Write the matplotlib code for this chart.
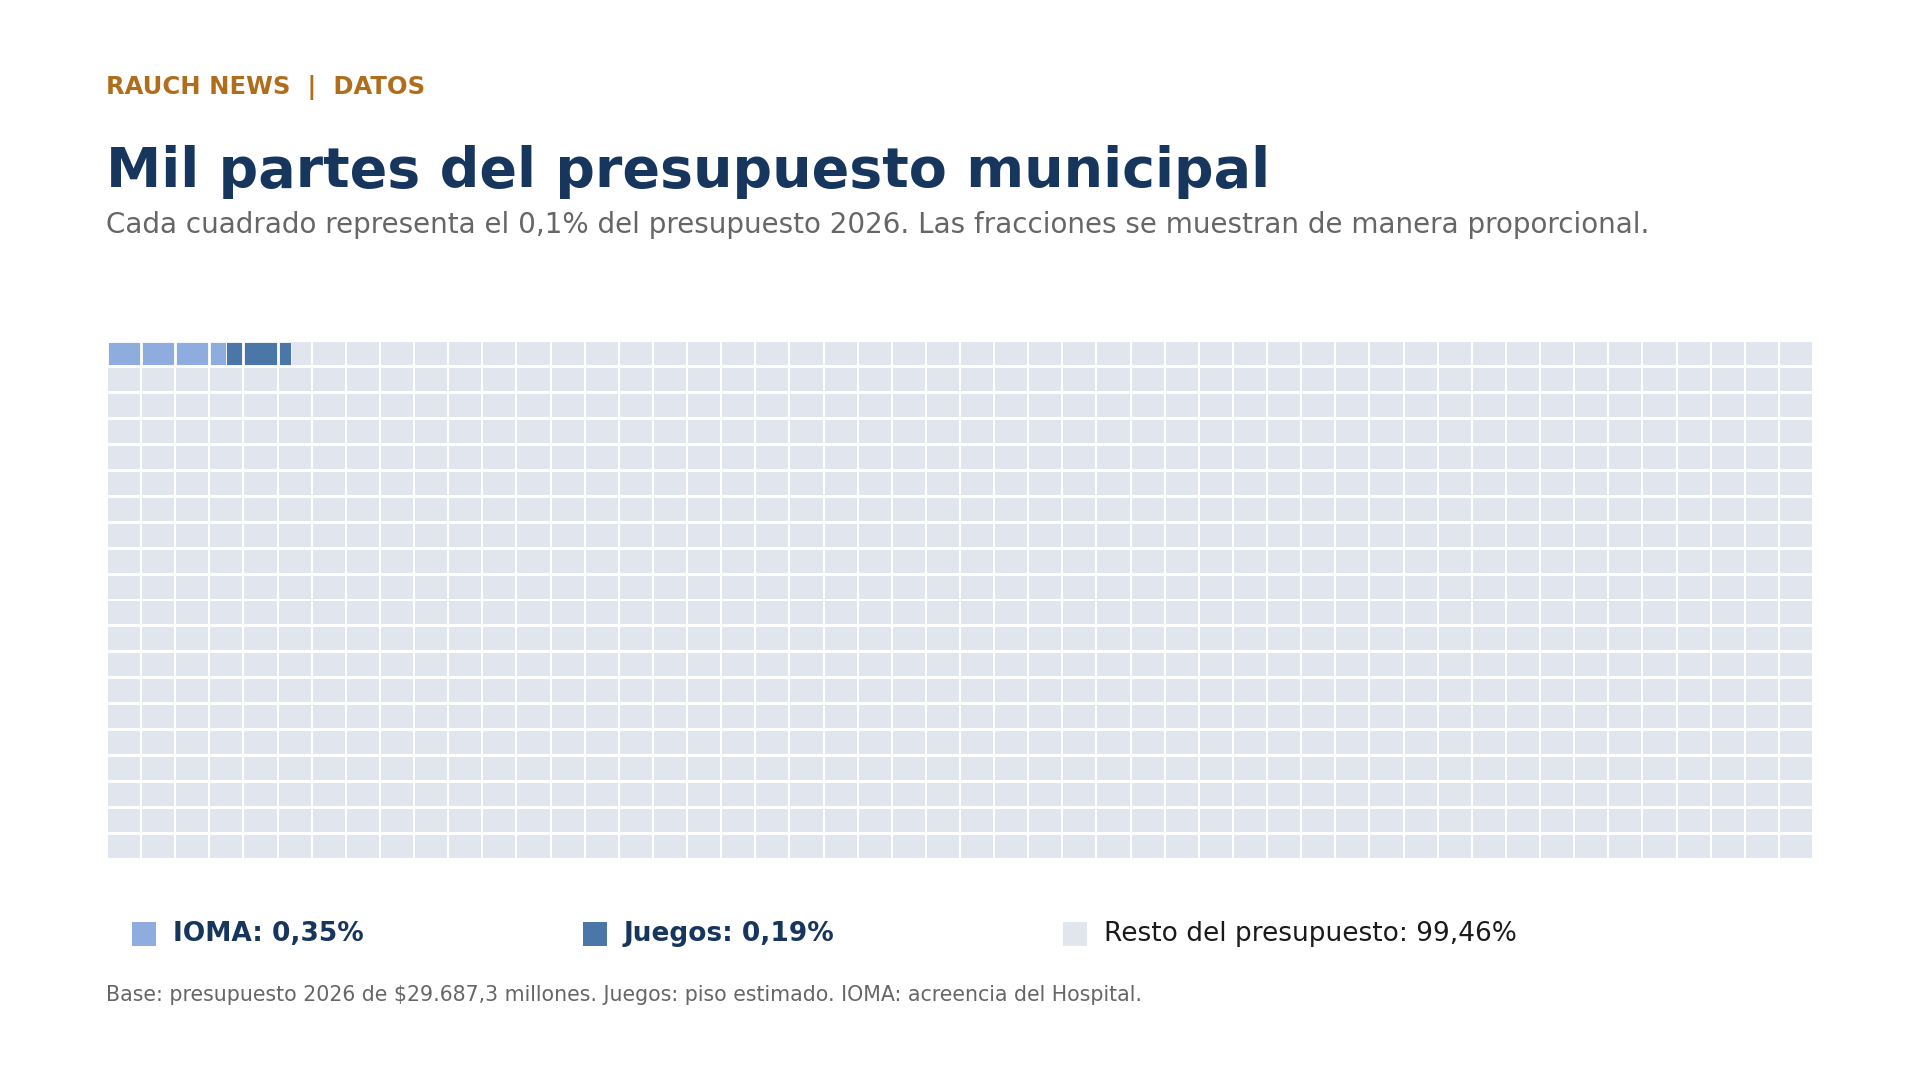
import matplotlib.pyplot as plt
from matplotlib.patches import Rectangle

# Datos: porcentaje del presupuesto 2026
categorias = ["IOMA", "Juegos", "Resto del presupuesto"]
porcentajes = [0.35, 0.19, 99.46]
colores = ["#8FACDE", "#4A77A8", "#E1E6EE"]
n_cols = 50
n_rows = 20

W, H = 1920, 1080
fig = plt.figure(figsize=(W / 100, H / 100), dpi=100)
fig.patch.set_facecolor("white")


def px(x, y):
    # pixel coords (top-left origin) -> figure fraction
    return x / W, 1 - y / H


navy = "#17365D"
gray = "#666666"

fig.text(*px(106, 88), "RAUCH NEWS  |  DATOS", color="#B06D1C", fontsize=17.5,
         fontweight="bold", ha="left", va="center")
fig.text(*px(106, 172), "Mil partes del presupuesto municipal", color=navy,
         fontsize=40, fontweight="bold", ha="left", va="center")
fig.text(*px(106, 225),
         "Cada cuadrado representa el 0,1% del presupuesto 2026. "
         "Las fracciones se muestran de manera proporcional.",
         color=gray, fontsize=20, ha="left", va="center")

# Waffle grid
left, top, right, bottom = 108, 342, 1812, 858
ax = fig.add_axes([left / W, 1 - bottom / H, (right - left) / W, (bottom - top) / H])
gap_x = 2 / 34
gap_y = 3 / 26
cw = 1 - gap_x
ch = 1 - gap_y
ax.set_xlim(0, n_cols - gap_x)
ax.set_ylim(n_rows - gap_y, 0)
ax.axis("off")

# unidades de 0,1% para las categorias destacadas
unidades = [p * 10 for p in porcentajes[:2]]
pos = 0.0
tramos = []
for u, c in zip(unidades, colores[:2]):
    tramos.append((pos, pos + u, c))
    pos += u

for i in range(n_cols * n_rows):
    r, col = divmod(i, n_cols)
    ax.add_patch(Rectangle((col, r), cw, ch, facecolor=colores[2], edgecolor="none"))
    for a, b, c in tramos:
        s = max(a, i)
        e = min(b, i + 1)
        if e > s:
            ax.add_patch(Rectangle((col + (s - i) * cw, r), (e - s) * cw, ch,
                                   facecolor=c, edgecolor="white", linewidth=0.6))

# Leyenda
leg_x = [132, 583, 1063]
textos = [f"{c}: {p:.2f}%".replace(".", ",") for c, p in zip(categorias, porcentajes)]
for x, t, c, k in zip(leg_x, textos, colores, range(3)):
    fx, fy = px(x, 946)
    fig.patches.append(Rectangle((fx, fy), 24 / W, 24 / H, transform=fig.transFigure,
                                 facecolor=c, edgecolor="none"))
    fig.text(*px(x + 41, 934), t, fontsize=19,
             fontweight="bold" if k < 2 else "normal",
             color=navy if k < 2 else "#1A1A1A", ha="left", va="center")

fig.text(*px(106, 995),
         "Base: presupuesto 2026 de $29.687,3 millones. Juegos: piso estimado. "
         "IOMA: acreencia del Hospital.",
         color=gray, fontsize=14.8, ha="left", va="center")

fig.savefig("out.png", dpi=100, facecolor="white")
